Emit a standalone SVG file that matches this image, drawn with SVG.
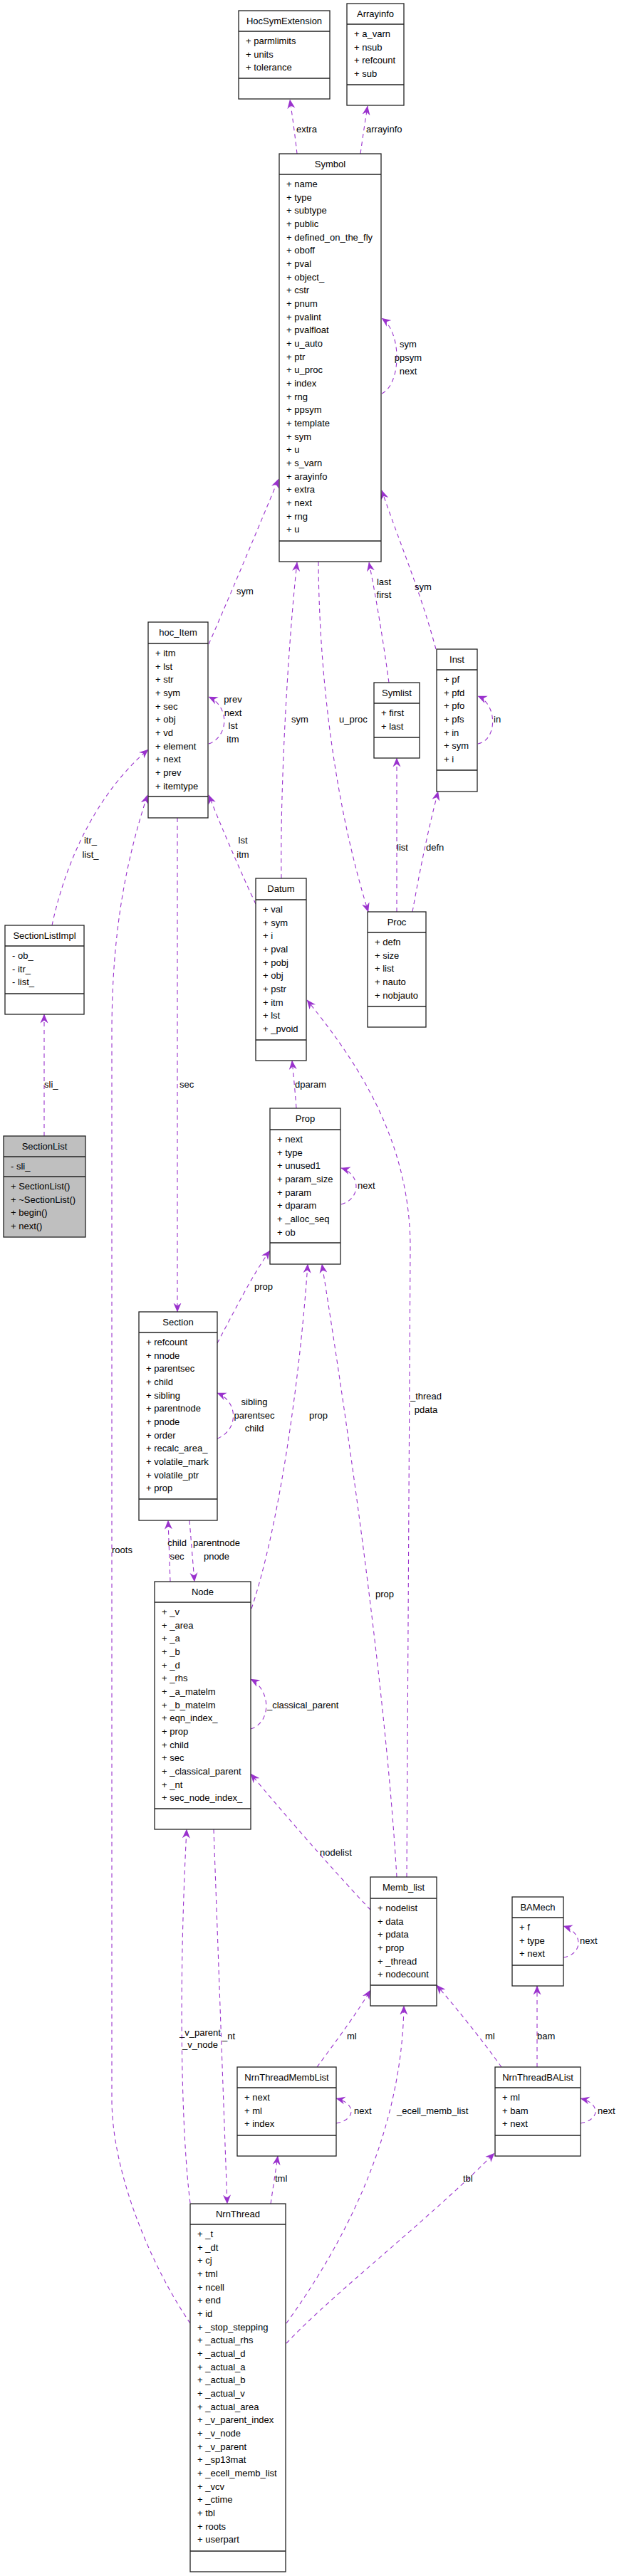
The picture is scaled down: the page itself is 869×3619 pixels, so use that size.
<svg xmlns="http://www.w3.org/2000/svg" width="869" height="3619" viewBox="0 0 869 3619">
<style>
text{font-family:"Liberation Sans",Arial,sans-serif;font-size:13px;fill:#000}
.t{text-anchor:middle}
.m{text-anchor:middle}
.n rect{fill:#fff;stroke:#222;stroke-width:1.3}
.n line{stroke:#222;stroke-width:1.3}
.g rect{fill:#bfbfbf}
.e path{fill:none;stroke:#9a32cd;stroke-width:1.1;stroke-dasharray:6,5;marker-end:url(#a)}
</style>
<defs>
<marker id="a" viewBox="0 0 13 12" refX="12.5" refY="6" markerWidth="13" markerHeight="12" markerUnits="userSpaceOnUse" orient="auto">
<path d="M0,0.5 L13,6 L0,11.5 L4,6 Z" fill="#9a32cd"/>
</marker>
</defs>
<rect width="869" height="3619" fill="#fff"/>

<g id="edges" class="e">
<path d="M417,216 Q413,180 407,140"/>
<path d="M506,216 Q511,180 516,149"/>
<path d="M536,553 C563,540 565,468 536,447"/>
<path d="M293,905 C315,855 355,760 391,673"/>
<path d="M293,1045 C321,1035 323,993 293,979"/>
<path d="M395,1234 C393,1100 405,900 417,790"/>
<path d="M447,789 C448,950 470,1130 517,1281"/>
<path d="M546,959 C538,900 528,840 518,790"/>
<path d="M612,912 C590,830 560,760 536,689"/>
<path d="M671,1045 C698,1040 699,990 671,978"/>
<path d="M359,1270 C340,1230 310,1160 293,1117"/>
<path d="M73,1300 C90,1220 130,1120 208,1053"/>
<path d="M557,1281 L557,1065"/>
<path d="M579,1281 C590,1220 600,1170 615,1112"/>
<path d="M62,1596 L62,1425"/>
<path d="M267,3264 C210,3180 157,3050 157,2950 L157,1450 C157,1300 180,1200 207,1117"/>
<path d="M249,1149 L249,1843"/>
<path d="M416,1557 C414,1530 412,1510 410,1490"/>
<path d="M571,2637 L576,1750 C575,1600 500,1490 431,1405"/>
<path d="M479,1692 C507,1684 507,1650 479,1641"/>
<path d="M305,1887 C330,1840 355,1790 379,1757"/>
<path d="M353,2260 C390,2150 420,1950 432,1776"/>
<path d="M557,2637 C540,2350 480,1950 452,1776"/>
<path d="M305,2021 C334,2010 336,1970 305,1957"/>
<path d="M239,2222 L236,2136"/>
<path d="M266,2136 L273,2222"/>
<path d="M352,2429 C381,2420 381,2375 352,2359"/>
<path d="M520,2683 C470,2630 400,2550 352,2492"/>
<path d="M445,2904 C470,2870 500,2830 520,2796"/>
<path d="M704,2904 C680,2870 640,2820 613,2789"/>
<path d="M754,2904 L754,2790"/>
<path d="M791,2750 C819,2745 819,2715 791,2706"/>
<path d="M472,2983 C500,2978 500,2955 472,2948"/>
<path d="M815,2983 C843,2978 843,2955 815,2948"/>
<path d="M380,3096 L390,3029"/>
<path d="M267,3095 C255,3000 250,2800 262,2570"/>
<path d="M300,2570 L319,3096"/>
<path d="M402,3264 C520,3100 565,2950 567,2818"/>
<path d="M402,3292 C470,3220 600,3120 694,3025"/>
</g>

<g id="edge-labels">
<text x="416" y="185.5">extra</text>
<text x="514" y="185.5">arrayinfo</text>
<text class="m" x="573" y="488">sym</text>
<text class="m" x="573" y="507">ppsym</text>
<text class="m" x="573" y="525.5">next</text>
<text x="332" y="835">sym</text>
<text class="m" x="327" y="987">prev</text>
<text class="m" x="327" y="1005.5">next</text>
<text class="m" x="327" y="1024">lst</text>
<text class="m" x="327" y="1043">itm</text>
<text x="409" y="1015">sym</text>
<text x="476" y="1015">u_proc</text>
<text class="m" x="539" y="821.5">last</text>
<text class="m" x="539" y="839.5">first</text>
<text x="582" y="828.5">sym</text>
<text x="693" y="1015">in</text>
<text class="m" x="341" y="1185">lst</text>
<text class="m" x="341" y="1204.5">itm</text>
<text class="m" x="127" y="1185">itr_</text>
<text class="m" x="127" y="1204.5">list_</text>
<text x="557" y="1195">list</text>
<text x="598" y="1195">defn</text>
<text x="62" y="1528">sli_</text>
<text x="252" y="1527.5">sec</text>
<text x="414" y="1528">dparam</text>
<text x="502" y="1669.5">next</text>
<text x="357" y="1812">prop</text>
<text class="m" x="357" y="1973.5">sibling</text>
<text class="m" x="357" y="1992.5">parentsec</text>
<text class="m" x="357" y="2011">child</text>
<text x="434" y="1992.5">prop</text>
<text class="m" x="598" y="1966">_thread</text>
<text class="m" x="598" y="1985">pdata</text>
<text x="157" y="2181.5">roots</text>
<text class="m" x="248.5" y="2172">child</text>
<text class="m" x="248.5" y="2191">sec</text>
<text class="m" x="304" y="2172">parentnode</text>
<text class="m" x="304" y="2191">pnode</text>
<text x="375" y="2399.5">_classical_parent</text>
<text x="527" y="2243.5">prop</text>
<text x="449" y="2607">nodelist</text>
<text x="487" y="2864.5">ml</text>
<text x="681" y="2864.5">ml</text>
<text x="754" y="2864.5">bam</text>
<text x="814" y="2731">next</text>
<text class="m" x="281" y="2859.5">_v_parent</text>
<text class="m" x="281" y="2876.5">_v_node</text>
<text x="312" y="2864.5">_nt</text>
<text x="497" y="2969.5">next</text>
<text x="557" y="2969.5">_ecell_memb_list</text>
<text x="839" y="2969.5">next</text>
<text x="386" y="3065">tml</text>
<text x="650" y="3065">tbl</text>
</g>

<g id="HocSymExtension" class="n">
<rect x="335" y="15" width="128" height="124"/>
<line x1="335" y1="44" x2="463" y2="44"/><line x1="335" y1="110" x2="463" y2="110"/>
<text class="t" x="399" y="33.5">HocSymExtension</text>
<text x="345" y="62">+ parmlimits<tspan x="345" dy="18.67">+ units</tspan><tspan x="345" dy="18.67">+ tolerance</tspan></text>
</g>

<g id="Arrayinfo" class="n">
<rect x="487" y="5" width="80" height="143"/>
<line x1="487" y1="34" x2="567" y2="34"/><line x1="487" y1="119" x2="567" y2="119"/>
<text class="t" x="527" y="23.5">Arrayinfo</text>
<text x="497" y="52">+ a_varn<tspan x="497" dy="18.67">+ nsub</tspan><tspan x="497" dy="18.67">+ refcount</tspan><tspan x="497" dy="18.67">+ sub</tspan></text>
</g>

<g id="Symbol" class="n">
<rect x="392" y="216" width="143" height="573"/>
<line x1="392" y1="245" x2="535" y2="245"/><line x1="392" y1="760" x2="535" y2="760"/>
<text class="t" x="463.5" y="234.5">Symbol</text>
<text x="402" y="263">+ name<tspan x="402" dy="18.67">+ type</tspan><tspan x="402" dy="18.67">+ subtype</tspan><tspan x="402" dy="18.67">+ public</tspan><tspan x="402" dy="18.67">+ defined_on_the_fly</tspan><tspan x="402" dy="18.67">+ oboff</tspan><tspan x="402" dy="18.67">+ pval</tspan><tspan x="402" dy="18.67">+ object_</tspan><tspan x="402" dy="18.67">+ cstr</tspan><tspan x="402" dy="18.67">+ pnum</tspan><tspan x="402" dy="18.67">+ pvalint</tspan><tspan x="402" dy="18.67">+ pvalfloat</tspan><tspan x="402" dy="18.67">+ u_auto</tspan><tspan x="402" dy="18.67">+ ptr</tspan><tspan x="402" dy="18.67">+ u_proc</tspan><tspan x="402" dy="18.67">+ index</tspan><tspan x="402" dy="18.67">+ rng</tspan><tspan x="402" dy="18.67">+ ppsym</tspan><tspan x="402" dy="18.67">+ template</tspan><tspan x="402" dy="18.67">+ sym</tspan><tspan x="402" dy="18.67">+ u</tspan><tspan x="402" dy="18.67">+ s_varn</tspan><tspan x="402" dy="18.67">+ arayinfo</tspan><tspan x="402" dy="18.67">+ extra</tspan><tspan x="402" dy="18.67">+ next</tspan><tspan x="402" dy="18.67">+ rng</tspan><tspan x="402" dy="18.67">+ u</tspan></text>
</g>

<g id="hoc_Item" class="n">
<rect x="208" y="874" width="84" height="275"/>
<line x1="208" y1="904" x2="292" y2="904"/><line x1="208" y1="1119" x2="292" y2="1119"/>
<text class="t" x="250" y="892.5">hoc_Item</text>
<text x="218" y="922">+ itm<tspan x="218" dy="18.67">+ lst</tspan><tspan x="218" dy="18.67">+ str</tspan><tspan x="218" dy="18.67">+ sym</tspan><tspan x="218" dy="18.67">+ sec</tspan><tspan x="218" dy="18.67">+ obj</tspan><tspan x="218" dy="18.67">+ vd</tspan><tspan x="218" dy="18.67">+ element</tspan><tspan x="218" dy="18.67">+ next</tspan><tspan x="218" dy="18.67">+ prev</tspan><tspan x="218" dy="18.67">+ itemtype</tspan></text>
</g>

<g id="Symlist" class="n">
<rect x="525" y="959" width="64" height="106"/>
<line x1="525" y1="988" x2="589" y2="988"/><line x1="525" y1="1036" x2="589" y2="1036"/>
<text class="t" x="557" y="977.5">Symlist</text>
<text x="535" y="1006">+ first<tspan x="535" dy="18.67">+ last</tspan></text>
</g>

<g id="Inst" class="n">
<rect x="613" y="912" width="57" height="200"/>
<line x1="613" y1="941" x2="670" y2="941"/><line x1="613" y1="1082" x2="670" y2="1082"/>
<text class="t" x="641.5" y="930.5">Inst</text>
<text x="623" y="959">+ pf<tspan x="623" dy="18.67">+ pfd</tspan><tspan x="623" dy="18.67">+ pfo</tspan><tspan x="623" dy="18.67">+ pfs</tspan><tspan x="623" dy="18.67">+ in</tspan><tspan x="623" dy="18.67">+ sym</tspan><tspan x="623" dy="18.67">+ i</tspan></text>
</g>

<g id="Datum" class="n">
<rect x="359" y="1234" width="71" height="256"/>
<line x1="359" y1="1264" x2="430" y2="1264"/><line x1="359" y1="1461" x2="430" y2="1461"/>
<text class="t" x="394.5" y="1252.5">Datum</text>
<text x="369" y="1282">+ val<tspan x="369" dy="18.67">+ sym</tspan><tspan x="369" dy="18.67">+ i</tspan><tspan x="369" dy="18.67">+ pval</tspan><tspan x="369" dy="18.67">+ pobj</tspan><tspan x="369" dy="18.67">+ obj</tspan><tspan x="369" dy="18.67">+ pstr</tspan><tspan x="369" dy="18.67">+ itm</tspan><tspan x="369" dy="18.67">+ lst</tspan><tspan x="369" dy="18.67">+ _pvoid</tspan></text>
</g>

<g id="Proc" class="n">
<rect x="516" y="1281" width="82" height="162"/>
<line x1="516" y1="1310" x2="598" y2="1310"/><line x1="516" y1="1414" x2="598" y2="1414"/>
<text class="t" x="557" y="1299.5">Proc</text>
<text x="526" y="1328">+ defn<tspan x="526" dy="18.67">+ size</tspan><tspan x="526" dy="18.67">+ list</tspan><tspan x="526" dy="18.67">+ nauto</tspan><tspan x="526" dy="18.67">+ nobjauto</tspan></text>
</g>

<g id="SectionListImpl" class="n">
<rect x="7" y="1300" width="111" height="125"/>
<line x1="7" y1="1329" x2="118" y2="1329"/><line x1="7" y1="1396" x2="118" y2="1396"/>
<text class="t" x="62.5" y="1318.5">SectionListImpl</text>
<text x="17" y="1347">- ob_<tspan x="17" dy="18.67">- itr_</tspan><tspan x="17" dy="18.67">- list_</tspan></text>
</g>

<g id="Prop" class="n">
<rect x="379" y="1557" width="99" height="219"/>
<line x1="379" y1="1587" x2="478" y2="1587"/><line x1="379" y1="1746" x2="478" y2="1746"/>
<text class="t" x="428.5" y="1575.5">Prop</text>
<text x="389" y="1605">+ next<tspan x="389" dy="18.67">+ type</tspan><tspan x="389" dy="18.67">+ unused1</tspan><tspan x="389" dy="18.67">+ param_size</tspan><tspan x="389" dy="18.67">+ param</tspan><tspan x="389" dy="18.67">+ dparam</tspan><tspan x="389" dy="18.67">+ _alloc_seq</tspan><tspan x="389" dy="18.67">+ ob</tspan></text>
</g>

<g id="SectionList" class="n g">
<rect x="5" y="1596" width="115" height="142"/>
<line x1="5" y1="1625" x2="120" y2="1625"/><line x1="5" y1="1653" x2="120" y2="1653"/>
<text class="t" x="62.5" y="1614.5">SectionList</text>
<text x="15" y="1643">- sli_</text>
<text x="15" y="1671">+ SectionList()<tspan x="15" dy="18.67">+ ~SectionList()</tspan><tspan x="15" dy="18.67">+ begin()</tspan><tspan x="15" dy="18.67">+ next()</tspan></text>
</g>

<g id="Section" class="n">
<rect x="195" y="1843" width="110" height="293"/>
<line x1="195" y1="1872" x2="305" y2="1872"/><line x1="195" y1="2106" x2="305" y2="2106"/>
<text class="t" x="250" y="1861.5">Section</text>
<text x="205" y="1890">+ refcount<tspan x="205" dy="18.67">+ nnode</tspan><tspan x="205" dy="18.67">+ parentsec</tspan><tspan x="205" dy="18.67">+ child</tspan><tspan x="205" dy="18.67">+ sibling</tspan><tspan x="205" dy="18.67">+ parentnode</tspan><tspan x="205" dy="18.67">+ pnode</tspan><tspan x="205" dy="18.67">+ order</tspan><tspan x="205" dy="18.67">+ recalc_area_</tspan><tspan x="205" dy="18.67">+ volatile_mark</tspan><tspan x="205" dy="18.67">+ volatile_ptr</tspan><tspan x="205" dy="18.67">+ prop</tspan></text>
</g>

<g id="Node" class="n">
<rect x="217" y="2222" width="135" height="348"/>
<line x1="217" y1="2251" x2="352" y2="2251"/><line x1="217" y1="2541" x2="352" y2="2541"/>
<text class="t" x="284.5" y="2240.5">Node</text>
<text x="227" y="2269">+ _v<tspan x="227" dy="18.67">+ _area</tspan><tspan x="227" dy="18.67">+ _a</tspan><tspan x="227" dy="18.67">+ _b</tspan><tspan x="227" dy="18.67">+ _d</tspan><tspan x="227" dy="18.67">+ _rhs</tspan><tspan x="227" dy="18.67">+ _a_matelm</tspan><tspan x="227" dy="18.67">+ _b_matelm</tspan><tspan x="227" dy="18.67">+ eqn_index_</tspan><tspan x="227" dy="18.67">+ prop</tspan><tspan x="227" dy="18.67">+ child</tspan><tspan x="227" dy="18.67">+ sec</tspan><tspan x="227" dy="18.67">+ _classical_parent</tspan><tspan x="227" dy="18.67">+ _nt</tspan><tspan x="227" dy="18.67">+ sec_node_index_</tspan></text>
</g>

<g id="Memb_list" class="n">
<rect x="520" y="2637" width="93" height="181"/>
<line x1="520" y1="2667" x2="613" y2="2667"/><line x1="520" y1="2789" x2="613" y2="2789"/>
<text class="t" x="566.5" y="2655.5">Memb_list</text>
<text x="530" y="2685">+ nodelist<tspan x="530" dy="18.67">+ data</tspan><tspan x="530" dy="18.67">+ pdata</tspan><tspan x="530" dy="18.67">+ prop</tspan><tspan x="530" dy="18.67">+ _thread</tspan><tspan x="530" dy="18.67">+ nodecount</tspan></text>
</g>

<g id="BAMech" class="n">
<rect x="719" y="2665" width="72" height="125"/>
<line x1="719" y1="2694" x2="791" y2="2694"/><line x1="719" y1="2761" x2="791" y2="2761"/>
<text class="t" x="755" y="2683.5">BAMech</text>
<text x="729" y="2712">+ f<tspan x="729" dy="18.67">+ type</tspan><tspan x="729" dy="18.67">+ next</tspan></text>
</g>

<g id="NrnThreadMembList" class="n">
<rect x="333" y="2904" width="139" height="125"/>
<line x1="333" y1="2933" x2="472" y2="2933"/><line x1="333" y1="3000" x2="472" y2="3000"/>
<text class="t" x="402.5" y="2922.5">NrnThreadMembList</text>
<text x="343" y="2951">+ next<tspan x="343" dy="18.67">+ ml</tspan><tspan x="343" dy="18.67">+ index</tspan></text>
</g>

<g id="NrnThreadBAList" class="n">
<rect x="695" y="2904" width="120" height="125"/>
<line x1="695" y1="2933" x2="815" y2="2933"/><line x1="695" y1="3000" x2="815" y2="3000"/>
<text class="t" x="755" y="2922.5">NrnThreadBAList</text>
<text x="705" y="2951">+ ml<tspan x="705" dy="18.67">+ bam</tspan><tspan x="705" dy="18.67">+ next</tspan></text>
</g>

<g id="NrnThread" class="n">
<rect x="267" y="3096" width="134" height="517"/>
<line x1="267" y1="3125" x2="401" y2="3125"/><line x1="267" y1="3584" x2="401" y2="3584"/>
<text class="t" x="334" y="3114.5">NrnThread</text>
<text x="277" y="3143">+ _t<tspan x="277" dy="18.67">+ _dt</tspan><tspan x="277" dy="18.67">+ cj</tspan><tspan x="277" dy="18.67">+ tml</tspan><tspan x="277" dy="18.67">+ ncell</tspan><tspan x="277" dy="18.67">+ end</tspan><tspan x="277" dy="18.67">+ id</tspan><tspan x="277" dy="18.67">+ _stop_stepping</tspan><tspan x="277" dy="18.67">+ _actual_rhs</tspan><tspan x="277" dy="18.67">+ _actual_d</tspan><tspan x="277" dy="18.67">+ _actual_a</tspan><tspan x="277" dy="18.67">+ _actual_b</tspan><tspan x="277" dy="18.67">+ _actual_v</tspan><tspan x="277" dy="18.67">+ _actual_area</tspan><tspan x="277" dy="18.67">+ _v_parent_index</tspan><tspan x="277" dy="18.67">+ _v_node</tspan><tspan x="277" dy="18.67">+ _v_parent</tspan><tspan x="277" dy="18.67">+ _sp13mat</tspan><tspan x="277" dy="18.67">+ _ecell_memb_list</tspan><tspan x="277" dy="18.67">+ _vcv</tspan><tspan x="277" dy="18.67">+ _ctime</tspan><tspan x="277" dy="18.67">+ tbl</tspan><tspan x="277" dy="18.67">+ roots</tspan><tspan x="277" dy="18.67">+ userpart</tspan></text>
</g>
</svg>
